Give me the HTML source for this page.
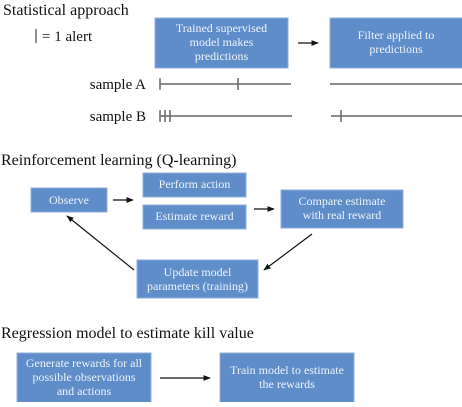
<!DOCTYPE html>
<html><head><style>
html,body{margin:0;padding:0;background:#fff;}
svg text{font-family:"Liberation Serif","DejaVu Serif",serif;}
.b{fill:#5f8dca;stroke:#8fb0dc;stroke-width:1}
.t{fill:#eef3fa;font-size:12px;text-anchor:middle}
.h{fill:#111;font-size:16px}
.l{stroke:#666;stroke-width:1.5}
.a{stroke:#111;stroke-width:1.2;marker-end:url(#ar)}
</style></head><body>
<svg width="462" height="402" viewBox="0 0 462 402" xmlns="http://www.w3.org/2000/svg">
<defs><marker id="ar" viewBox="0 0 10 10" refX="9" refY="5" markerWidth="6" markerHeight="6" orient="auto"><path d="M0,1 L10,5 L0,9 z" fill="#111"/></marker></defs>
<text x="3" y="15" class="h">Statistical approach</text>
<line x1="36" y1="29" x2="36" y2="43" stroke="#222" stroke-width="1"/>
<text x="42" y="41" class="h" style="font-size:15px">= 1 alert</text>
<rect class="b" x="155" y="18" width="133" height="50"/>
<text class="t" x="221.5" y="32">Trained supervised</text>
<text class="t" x="221.5" y="46">model makes</text>
<text class="t" x="221.5" y="60">predictions</text>
<line class="a" x1="298" y1="43" x2="318" y2="43"/>
<rect class="b" x="330" y="18" width="133" height="50"/>
<text class="t" x="396" y="39">Filter applied to</text>
<text class="t" x="396" y="53">predictions</text>
<text x="146" y="89" class="h" style="font-size:15px;text-anchor:end">sample A</text>
<line class="l" x1="160" y1="84" x2="291" y2="84"/>
<line class="l" x1="160" y1="78" x2="160" y2="90"/>
<line class="l" x1="238" y1="78" x2="238" y2="90"/>
<line class="l" x1="330" y1="84" x2="462" y2="84"/>
<text x="146" y="121" class="h" style="font-size:15px;text-anchor:end">sample B</text>
<line class="l" x1="160" y1="116" x2="292" y2="116"/>
<line class="l" x1="160" y1="110" x2="160" y2="122"/>
<line class="l" x1="165" y1="110" x2="165" y2="122"/>
<line class="l" x1="170" y1="110" x2="170" y2="122"/>
<line class="l" x1="331" y1="116" x2="462" y2="116"/>
<line class="l" x1="341" y1="110" x2="341" y2="122"/>

<text x="1" y="165" class="h">Reinforcement learning (Q-learning)</text>
<rect class="b" x="31" y="188" width="76" height="24"/>
<text class="t" x="69" y="204">Observe</text>
<line class="a" x1="113" y1="200" x2="133" y2="200"/>
<rect class="b" x="143" y="173" width="103" height="24"/>
<text class="t" x="194.5" y="188">Perform action</text>
<rect class="b" x="143" y="205" width="103" height="24"/>
<text class="t" x="194.5" y="220">Estimate reward</text>
<line class="a" x1="254" y1="209" x2="274" y2="209"/>
<rect class="b" x="281" y="190" width="122" height="38"/>
<text class="t" x="342" y="205">Compare estimate</text>
<text class="t" x="342" y="219">with real reward</text>
<line class="a" x1="312" y1="234" x2="264" y2="270"/>
<rect class="b" x="137" y="260" width="121" height="38"/>
<text class="t" x="197.5" y="276">Update model</text>
<text class="t" x="197.5" y="290">parameters (training)</text>
<line class="a" x1="134" y1="270" x2="67" y2="216"/>

<text x="1" y="338" class="h">Regression model to estimate kill value</text>
<rect class="b" x="17" y="353" width="134" height="50"/>
<text class="t" x="84" y="367">Generate rewards for all</text>
<text class="t" x="84" y="381">possible observations</text>
<text class="t" x="84" y="395">and actions</text>
<line class="a" x1="160" y1="378" x2="210" y2="378"/>
<rect class="b" x="220" y="353" width="134" height="50"/>
<text class="t" x="287" y="374">Train model to estimate</text>
<text class="t" x="287" y="388">the rewards</text>
</svg>
</body></html>
